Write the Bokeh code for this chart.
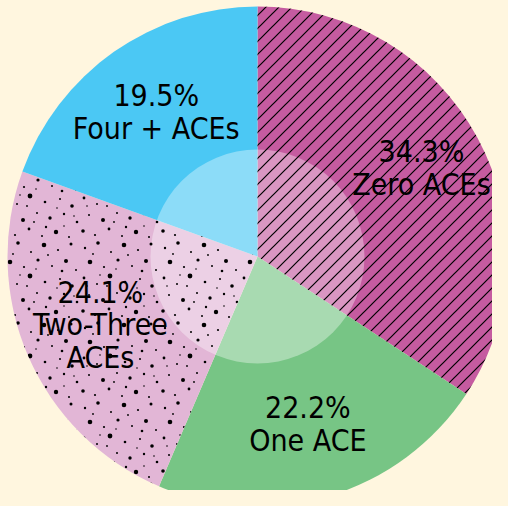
import math
import base64
from bokeh.plotting import figure
from bokeh.models import ColumnDataSource, Range1d, ImageURLTexture
from bokeh.core.properties import value
from bokeh.embed import file_html
from bokeh.resources import INLINE

# ---- data ----
categories = ["Zero ACEs", "One ACE", "Two-Three ACEs", "Four + ACEs"]
label_names = ["Zero ACEs", "One ACE", "Two-Three\nACEs", "Four + ACEs"]
percentages = [34.3, 22.2, 24.1, 19.5]
colors = ["#C55BA0", "#77C585", "#E2B6D6", "#4BC8F4"]
textures = ["lines", " ", "stipple", " "]

# layout: radial distance of each label, as a fraction of the pie radius
label_radius = [0.745, 0.70, 0.685, 0.705]

BG = "#FFF6DF"
R = 250
R_INNER = 107


def svg_uri(svg):
    return "data:image/svg+xml;base64," + base64.b64encode(svg.encode()).decode()


# diagonal-line texture tile
LINE_TILE = ('<svg xmlns="http://www.w3.org/2000/svg" width="13" height="13">'
             '<path d="M0,13 L13,0 M-1,1 L1,-1 M12,14 L14,12" stroke="black" '
             'stroke-width="1.2" fill="none"/></svg>')

# stipple texture tile (decorative, irregular dot pattern)
_dots = [(5, 8, 1.2), (18, 3, 1.8), (31, 12, 1.0), (44, 5, 2.3), (58, 10, 1.1),
         (71, 4, 1.5), (10, 22, 2.3), (24, 27, 1.1), (38, 20, 1.6), (52, 26, 1.0),
         (66, 21, 2.0), (76, 30, 1.0), (4, 38, 1.4), (17, 44, 1.0), (30, 36, 2.4),
         (45, 42, 1.3), (60, 39, 1.0), (72, 46, 1.8), (9, 55, 1.0), (23, 60, 2.0),
         (37, 53, 1.0), (50, 58, 1.7), (64, 54, 1.2), (77, 62, 1.3), (3, 71, 1.8),
         (15, 75, 1.1), (29, 69, 1.4), (42, 76, 1.0), (56, 72, 2.2), (69, 77, 1.0),
         (13, 14, 0.9), (27, 46, 0.9), (48, 15, 0.9), (62, 31, 1.3), (34, 62, 0.9),
         (57, 48, 0.8), (7, 46, 0.8), (74, 56, 0.8), (20, 35, 0.8), (46, 67, 1.2),
         (64, 66, 0.8), (36, 29, 0.8)]
DOT_TILE = ('<svg xmlns="http://www.w3.org/2000/svg" width="80" height="80">'
            + "".join('<circle cx="%s" cy="%s" r="%s" fill="black"/>' % d for d in _dots)
            + '</svg>')

total = sum(percentages)
starts, ends, mids = [], [], []
cum = 0.0
for v in percentages:
    a0 = math.pi / 2 - 2 * math.pi * cum / total
    cum += v
    a1 = math.pi / 2 - 2 * math.pi * cum / total
    starts.append(a0)
    ends.append(a1)
    mids.append((a0 + a1) / 2)

src = ColumnDataSource(dict(
    cat=categories, pct=percentages, color=colors, tex=textures,
    start=starts, end=ends,
))

p = figure(width=492, height=490, output_backend="svg", toolbar_location=None,
           x_range=Range1d(-257, 235), y_range=Range1d(-234, 256),
           x_axis_type=None, y_axis_type=None, min_border=0)
p.grid.visible = False
p.outline_line_color = None
p.background_fill_color = BG
p.border_fill_color = BG

# slices
p.wedge(x=0, y=0, radius=R, start_angle="start", end_angle="end",
        direction="clock", fill_color="color", line_color=None, source=src)

# translucent center disc
p.circle(x=[0], y=[0], radius=R_INNER, fill_color="white", fill_alpha=0.36,
         line_color=None)

# texture overlays (on top so the pattern stays dark)
p.wedge(x=0, y=0, radius=R, start_angle="start", end_angle="end",
        direction="clock", fill_alpha=0, line_color=None,
        hatch_pattern="tex",
        hatch_extra={"lines": ImageURLTexture(url=svg_uri(LINE_TILE)),
                     "stipple": ImageURLTexture(url=svg_uri(DOT_TILE))},
        source=src)

# labels
lx = [f * R * math.cos(a) for f, a in zip(label_radius, mids)]
ly = [f * R * math.sin(a) for f, a in zip(label_radius, mids)]
texts = [f"{v:.1f}%\n{n}" for v, n in zip(percentages, label_names)]
p.text(x=lx, y=ly, text=texts, text_align="center", text_baseline="middle",
       text_font=value("DejaVu Sans Condensed"), text_font_size="30px",
       text_color="black", text_line_height=0.93)

html = file_html(p, INLINE)
html = html.replace("<head>", "<head><style>html,body{background:%s;}</style>" % BG, 1)
open("out.html", "w").write(html)
